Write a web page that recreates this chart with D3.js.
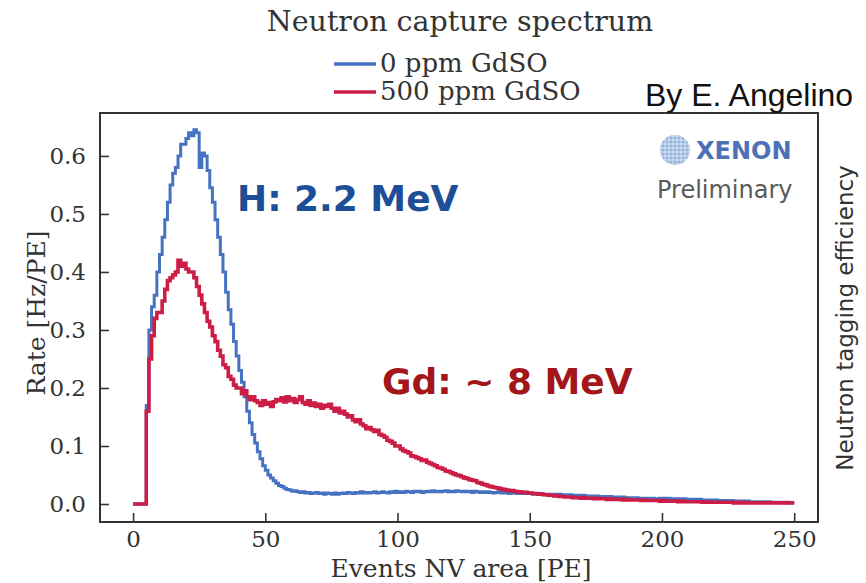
<!DOCTYPE html>
<html>
<head>
<meta charset="utf-8">
<script src="https://cdn.jsdelivr.net/npm/d3@7"></script>
<style>
  html, body { margin: 0; padding: 0; background: #fff; }
  svg { display: block; }
</style>
</head>
<body>
<svg id="chart" width="866" height="583"></svg>
<script>
// ---------------- DATA ----------------
const seriesNames = ["0 ppm GdSO", "500 ppm GdSO"];
const xTicks = [0, 50, 100, 150, 200, 250];
const yTicks = [0.0, 0.1, 0.2, 0.3, 0.4, 0.5, 0.6];
const binWidth = 1; // PE per bin, bins start at 0

// 0 ppm GdSO (rate per 1-PE bin, 0..249)
const rate0ppm = [
  0,0,0,0,0, .17,.30,.34,.36,.40,
  .43,.46,.49,.52,.55,.57,.58,.60,.62,.62,
  .63,.64,.635,.645,.64,.58,.605,.60,.575,.545,
  .52,.49,.46,.43,.40,.365,.335,.31,.28,.255,
  .23,.21,.185,.16,.14,.12,.105,.09,.078,.066,
  .058,.05,.045,.04,.036,.032,.03,.027,.025,.024,
  .022,.023,.021,.020,.021,.019,.020,.018,.019,.020,
  .018,.019,.017,.019,.018,.017,.019,.017,.018,.019,
  .018,.020,.019,.018,.020,.019,.021,.019,.020,.019,
  .020,.021,.019,.020,.021,.020,.019,.021,.020,.022,
  .020,.021,.020,.022,.021,.020,.022,.021,.022,.020,
  .021,.022,.021,.023,.021,.022,.021,.022,.023,.021,
  .022,.021,.023,.022,.021,.022,.021,.022,.020,.022,
  .021,.020,.021,.020,.021,.020,.019,.020,.021,.019,
  .020,.019,.018,.020,.019,.018,.019,.018,.019,.018,
  .019,.017,.018,.017,.018,.017,.016,.017,.016,.017,
  .016,.017,.015,.016,.015,.016,.015,.014,.015,.014,
  .015,.014,.013,.014,.013,.014,.013,.012,.013,.012,
  .013,.012,.011,.012,.011,.012,.011,.010,.011,.010,
  .011,.010,.010,.009,.010,.009,.010,.009,.009,.010,
  .010,.009,.010,.009,.009,.008,.009,.008,.009,.008,
  .008,.007,.008,.007,.008,.007,.007,.006,.007,.006,
  .007,.006,.006,.005,.006,.005,.006,.005,.005,.005,
  .005,.004,.005,.004,.004,.004,.004,.003,.004,.003,
  .004,.003,.003,.003,.003,.003,.002,.003,.002,.002
];

// 500 ppm GdSO (rate per 1-PE bin, 0..249)
const rate500ppm = [
  0,0,0,0,0, .16,.25,.29,.32,.33,
  .33,.35,.37,.385,.39,.395,.40,.42,.41,.415,
  .405,.40,.40,.39,.375,.36,.345,.33,.315,.305,
  .29,.28,.265,.255,.24,.235,.22,.215,.205,.20,
  .20,.19,.195,.185,.18,.185,.178,.175,.17,.178,
  .172,.175,.168,.176,.18,.178,.183,.176,.185,.178,
  .182,.175,.18,.185,.175,.172,.178,.17,.174,.168,
  .172,.165,.17,.168,.172,.165,.16,.165,.157,.16,
  .155,.15,.152,.145,.142,.145,.138,.135,.13,.132,
  .128,.125,.127,.12,.118,.115,.11,.108,.105,.10,
  .10,.095,.092,.09,.088,.083,.082,.08,.078,.075,
  .076,.072,.07,.068,.066,.063,.062,.06,.057,.056,
  .054,.052,.05,.049,.047,.045,.044,.042,.041,.04,
  .037,.036,.034,.033,.031,.030,.029,.028,.027,.026,
  .025,.024,.023,.023,.022,.021,.021,.020,.020,.019,
  .019,.018,.018,.017,.017,.016,.016,.015,.015,.014,
  .014,.013,.013,.012,.012,.012,.011,.011,.011,.010,
  .011,.010,.010,.010,.009,.010,.009,.009,.009,.008,
  .009,.008,.008,.008,.008,.007,.008,.007,.007,.007,
  .007,.007,.006,.007,.006,.006,.006,.006,.006,.005,
  .006,.005,.005,.005,.005,.005,.004,.005,.004,.004,
  .004,.004,.004,.004,.004,.003,.004,.003,.003,.003,
  .003,.003,.003,.003,.003,.003,.003,.002,.003,.002,
  .003,.002,.002,.002,.002,.002,.002,.002,.002,.002,
  .002,.002,.002,.002,.002,.002,.002,.002,.002,.002
];

// ---------------- LAYOUT ----------------
const svg = d3.select("#chart");
const L = 100, R = 818, T = 113, B = 522;
const serif = "DejaVu Serif, serif";
const sans = "DejaVu Sans, sans-serif";
const blue = "#4672c2", red = "#cc1d47";
const axisCol = "#333";

const x = d3.scaleLinear().domain([-12.5, 259]).range([L, R]);
const y = d3.scaleLinear().domain([-0.031, 0.674]).range([B, T]);

// Clip for curves
svg.append("defs").append("clipPath").attr("id", "plotClip")
  .append("rect").attr("x", L).attr("y", T).attr("width", R - L).attr("height", B - T);

function toPoints(vals) {
  const pts = vals.map((v, i) => [i * binWidth, v]);
  pts.push([vals.length * binWidth, vals[vals.length - 1]]);
  return pts;
}
const line = d3.line().x(d => x(d[0])).y(d => y(d[1])).curve(d3.curveStepAfter);

const g = svg.append("g").attr("clip-path", "url(#plotClip)");
g.append("path").datum(toPoints(rate0ppm))
  .attr("d", line).attr("fill", "none").attr("stroke", blue)
  .attr("stroke-width", 3).attr("stroke-linejoin", "miter");
g.append("path").datum(toPoints(rate500ppm))
  .attr("d", line).attr("fill", "none").attr("stroke", red)
  .attr("stroke-width", 3.6).attr("stroke-linejoin", "miter");

// Axes (inward ticks)
const xAxis = d3.axisBottom(x).tickValues(xTicks).tickFormat(d3.format("d"))
  .tickSizeInner(-9).tickSizeOuter(0).tickPadding(9);
const yAxis = d3.axisLeft(y).tickValues(yTicks).tickFormat(d3.format(".1f"))
  .tickSizeInner(-9).tickSizeOuter(0).tickPadding(14);

const gx = svg.append("g").attr("transform", `translate(0,${B})`).call(xAxis);
const gy = svg.append("g").attr("transform", `translate(${L},0)`).call(yAxis);
[gx, gy].forEach(a => {
  a.select(".domain").remove();
  a.selectAll(".tick line").attr("stroke", axisCol).attr("stroke-width", 1.6);
  a.selectAll(".tick text").attr("fill", "#333").style("font-family", serif).style("font-size", "23px");
});

// Frame
svg.append("rect").attr("x", L).attr("y", T).attr("width", R - L).attr("height", B - T)
  .attr("fill", "none").attr("stroke", axisCol).attr("stroke-width", 2);

// Title
svg.append("text").attr("x", 460).attr("y", 31).attr("text-anchor", "middle")
  .style("font-family", serif).style("font-size", "28.5px").attr("fill", "#333")
  .text("Neutron capture spectrum");

// Legend
const legendY = [64, 92];
[blue, red].forEach((c, i) => {
  svg.append("line").attr("x1", 334).attr("x2", 376).attr("y1", legendY[i]).attr("y2", legendY[i])
    .attr("stroke", c).attr("stroke-width", 3.4);
  svg.append("text").attr("x", 380).attr("y", legendY[i] + 8)
    .style("font-family", serif).style("font-size", "26px").attr("fill", "#333")
    .text(seriesNames[i]);
});

// Credit
svg.append("text").attr("x", 645).attr("y", 106)
  .style("font-family", "Liberation Sans, Arial, sans-serif").style("font-size", "32px").attr("fill", "#111")
  .text("By E. Angelino");

// Axis labels
svg.append("text").attr("x", 461).attr("y", 577).attr("text-anchor", "middle")
  .style("font-family", serif).style("font-size", "25px").attr("fill", "#333")
  .text("Events NV area [PE]");
svg.append("text").attr("transform", "translate(45,313) rotate(-90)").attr("text-anchor", "middle")
  .style("font-family", serif).style("font-size", "25px").attr("fill", "#333")
  .text("Rate [Hz/PE]");
svg.append("text").attr("transform", "translate(853,318) rotate(-90)").attr("text-anchor", "middle")
  .style("font-family", sans).style("font-size", "23px").attr("fill", "#333")
  .text("Neutron tagging efficiency");

// Annotations
svg.append("text").attr("x", 237).attr("y", 211)
  .style("font-family", sans).style("font-weight", "bold").style("font-size", "36px").attr("fill", "#1d4f98")
  .text("H: 2.2 MeV");
svg.append("text").attr("x", 382).attr("y", 394)
  .style("font-family", sans).style("font-weight", "bold").style("font-size", "36px").attr("fill", "#a3161a")
  .text("Gd: ~ 8 MeV");

// XENON logo
const logo = svg.append("g");
logo.append("clipPath").attr("id", "globeClip").append("circle").attr("cx", 675).attr("cy", 150).attr("r", 15);
logo.append("circle").attr("cx", 675).attr("cy", 150).attr("r", 15).attr("fill", "#93b1dd");
const grid = logo.append("g").attr("clip-path", "url(#globeClip)");
d3.range(661, 690, 4).forEach(v => {
  grid.append("line").attr("x1", v).attr("x2", v).attr("y1", 134).attr("y2", 166).attr("stroke", "#dbe6f5").attr("stroke-width", 1);
});
d3.range(136, 166, 4).forEach(v => {
  grid.append("line").attr("x1", 659).attr("x2", 691).attr("y1", v).attr("y2", v).attr("stroke", "#dbe6f5").attr("stroke-width", 1);
});
logo.append("text").attr("x", 696).attr("y", 159)
  .style("font-family", sans).style("font-weight", "bold").style("font-size", "24px").attr("fill", "#4d70b6")
  .text("XENON");
logo.append("text").attr("x", 657).attr("y", 198)
  .style("font-family", sans).style("font-size", "24px").attr("fill", "#5a5a5a")
  .text("Preliminary");
</script>
</body>
</html>
